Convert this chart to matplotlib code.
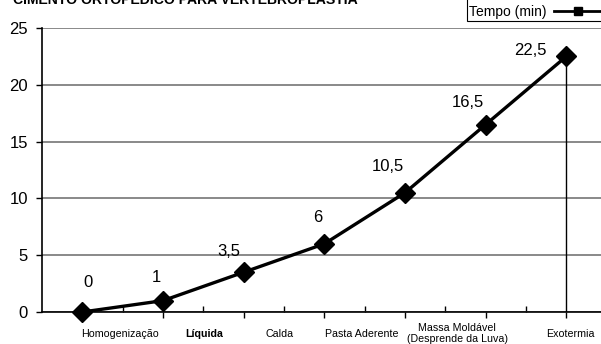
import matplotlib
matplotlib.use("Agg")
import matplotlib.pyplot as plt
from matplotlib.lines import Line2D
from matplotlib.patches import Rectangle
from matplotlib.ticker import MultipleLocator

plt.rcParams['font.family'] = ['Liberation Sans', 'DejaVu Sans']

# dados
titulo = "CIMENTO ORTOPÉDICO PARA VERTEBROPLASTIA"
fases = ["Homogenização", "Líquida", "Calda", "Pasta Aderente",
         "Massa Moldável\n(Desprende da Luva)", "Exotermia"]
tempo = [0, 1, 3.5, 6, 10.5, 16.5, 22.5]
serie = "Tempo (min)"

# deslocamento dos rótulos de dados (pontos) e posição dos nomes das fases
desloc = [(4, 21), (-5, 17), (-11, 15), (-5, 19), (-12, 19), (-13, 16), (-26, 4)]
pos_fases = [0.47, 1.51, 2.45, 3.47, 4.65, 6.05]

fig = plt.figure(figsize=(6.01, 3.44), dpi=100)
ax = fig.add_axes([42 / 601, 32 / 344, 1 - 42 / 601, 284 / 344])

x = list(range(len(tempo)))
ax.plot(x, tempo, color='black', lw=2.4, marker='D', markersize=10,
        markerfacecolor='black', markeredgecolor='black', zorder=5, clip_on=False)
ax.vlines(x[-1], 0, tempo[-1], color='black', lw=1, zorder=4)

for xi, v, (dx, dy) in zip(x, tempo, desloc):
    txt = f"{v:g}".replace('.', ',')
    ax.annotate(txt, (xi, v), xytext=(dx, dy), textcoords='offset points',
                ha='center', va='center', fontsize=12)

ax.set_xlim(-0.5, 6.43)
ax.set_ylim(0, 25)
ax.yaxis.set_major_locator(MultipleLocator(5))
ax.grid(axis='y', color='#808080', lw=1.3)
ax.set_axisbelow(True)

for s in ['top', 'right']:
    ax.spines[s].set_visible(False)
for s in ['left', 'bottom']:
    ax.spines[s].set_color('black')
    ax.spines[s].set_linewidth(1.2)

ax.set_xticks(x)
ax.set_xticks([i + 0.5 for i in range(6)], minor=True)
ax.tick_params(axis='x', which='major', direction='out', length=4, width=1, labelbottom=False)
ax.tick_params(axis='x', which='minor', direction='in', length=4, width=1)
ax.tick_params(axis='y', direction='out', length=4, width=1, labelsize=12, pad=6)

# rótulos das fases
for p, f in zip(pos_fases, fases):
    peso = 'bold' if f == "Líquida" else 'normal'
    ax.annotate(f, (p, 0), xycoords=('data', 'axes fraction'), xytext=(0, -15.5),
                textcoords='offset points', ha='center', va='center', fontsize=7.7,
                fontweight=peso, linespacing=1.05)

fig.text(13 / 601, 1 - 4 / 344, titulo, fontsize=10.1, fontweight='bold', va='baseline')

# legenda (caixa cortada pela borda da figura, como no original)
fig.add_artist(Rectangle((467 / 601, 1 - 21 / 344), 0.3, 0.2, transform=fig.transFigure,
                         facecolor='white', edgecolor='black', lw=0.8))
h = Line2D([], [], color='black', lw=2, marker='s', markersize=6)
leg = fig.legend([h], [serie], loc='lower left', bbox_to_anchor=(467 / 601, 1 - 21 / 344),
                 frameon=False, fontsize=10, borderpad=0.15,
                 borderaxespad=0, handlelength=3.4, handletextpad=0.55, markerfirst=False)

fig.savefig("out.png", dpi=100)
